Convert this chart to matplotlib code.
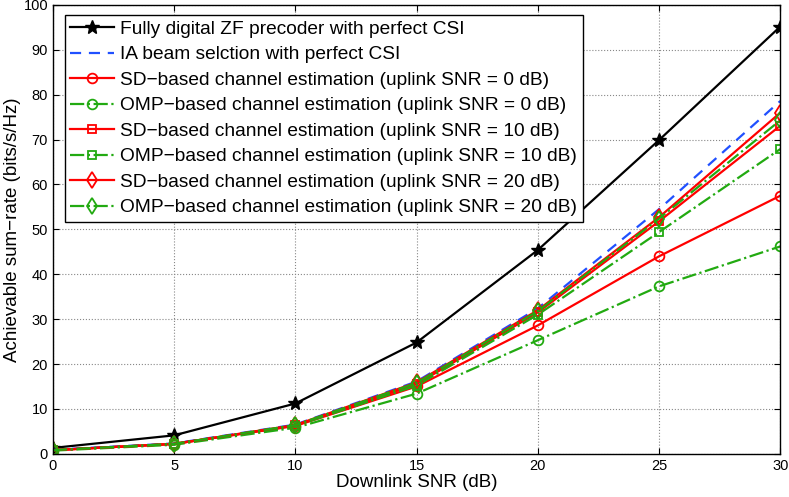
import matplotlib.pyplot as plt

plt.rcParams['font.family'] = ['Liberation Sans', 'DejaVu Sans']

# --- data ---
snr = [0, 5, 10, 15, 20, 25, 30]

zf_perfect = [1.3, 4.1, 11.2, 24.8, 45.4, 69.9, 95.2]
ia_perfect = [0.9, 2.3, 6.5, 16.1, 32.4, 54.5, 78.6]
sd_0 = [0.8, 2.2, 6.2, 15.0, 28.6, 44.0, 57.5]
omp_0 = [0.7, 2.0, 5.8, 13.4, 25.3, 37.3, 46.2]
sd_10 = [0.8, 2.2, 6.3, 15.5, 31.5, 51.8, 73.1]
omp_10 = [0.8, 2.2, 6.2, 15.2, 31.0, 49.4, 67.9]
sd_20 = [0.8, 2.2, 6.4, 15.9, 32.0, 52.7, 76.0]
omp_20 = [0.8, 2.2, 6.4, 15.8, 31.8, 52.4, 74.3]

labels = [
    "Fully digital ZF precoder with perfect CSI",
    "IA beam selction with perfect CSI",
    "SD\u2212based channel estimation (uplink SNR = 0 dB)",
    "OMP\u2212based channel estimation (uplink SNR = 0 dB)",
    "SD\u2212based channel estimation (uplink SNR = 10 dB)",
    "OMP\u2212based channel estimation (uplink SNR = 10 dB)",
    "SD\u2212based channel estimation (uplink SNR = 20 dB)",
    "OMP\u2212based channel estimation (uplink SNR = 20 dB)",
]

red = '#ff0000'
green = '#22aa11'
blue = '#2050ff'

fig = plt.figure(figsize=(7.89, 4.97), dpi=100)
ax = fig.add_axes([0.067, 0.087, 0.922, 0.903])

lw = 1.6
ax.plot(snr, zf_perfect, '-', color='black', lw=lw, marker='*', ms=10, label=labels[0])
ax.plot(snr, ia_perfect, '--', color=blue, lw=lw, dashes=(5, 3.5), label=labels[1])
ax.plot(snr, sd_0, '-', color=red, lw=lw, marker='o', ms=7, mfc='none', mew=1.3, label=labels[2])
ax.plot(snr, omp_0, '-.', color=green, lw=lw, marker='o', ms=7, mfc='none', mew=1.3, label=labels[3])
ax.plot(snr, sd_10, '-', color=red, lw=lw, marker='s', ms=6, mfc='none', mew=1.3, label=labels[4])
ax.plot(snr, omp_10, '-.', color=green, lw=lw, marker='s', ms=6, mfc='none', mew=1.3, label=labels[5])
ax.plot(snr, sd_20, '-', color=red, lw=lw, marker='d', ms=8, mfc='none', mew=1.3, label=labels[6])
ax.plot(snr, omp_20, '-.', color=green, lw=lw, marker='d', ms=8, mfc='none', mew=1.3, label=labels[7])

ax.set_xlim(0, 30)
ax.set_ylim(0, 100)
ax.set_xticks(range(0, 31, 5))
ax.set_yticks(range(0, 101, 10))
ax.grid(True, linestyle=':', color='#888888', linewidth=0.8)
ax.tick_params(direction='in', labelsize=10.5, top=True, right=True, length=4)
for s in ax.spines.values():
    s.set_linewidth(1.0)

ax.set_xlabel('Downlink SNR (dB)', fontsize=13.5, labelpad=1)
ax.set_ylabel('Achievable sum\u2212rate (bits/s/Hz)', fontsize=13.5, labelpad=2)

leg = ax.legend(loc='upper left', bbox_to_anchor=(0.016, 0.978), fontsize=13.8,
                handlelength=2.3, handletextpad=0.3, labelspacing=0.42,
                borderpad=0.3, borderaxespad=0, fancybox=False, framealpha=1,
                edgecolor='black')
leg.get_frame().set_linewidth(1.0)

fig.savefig('out.png', dpi=100)
